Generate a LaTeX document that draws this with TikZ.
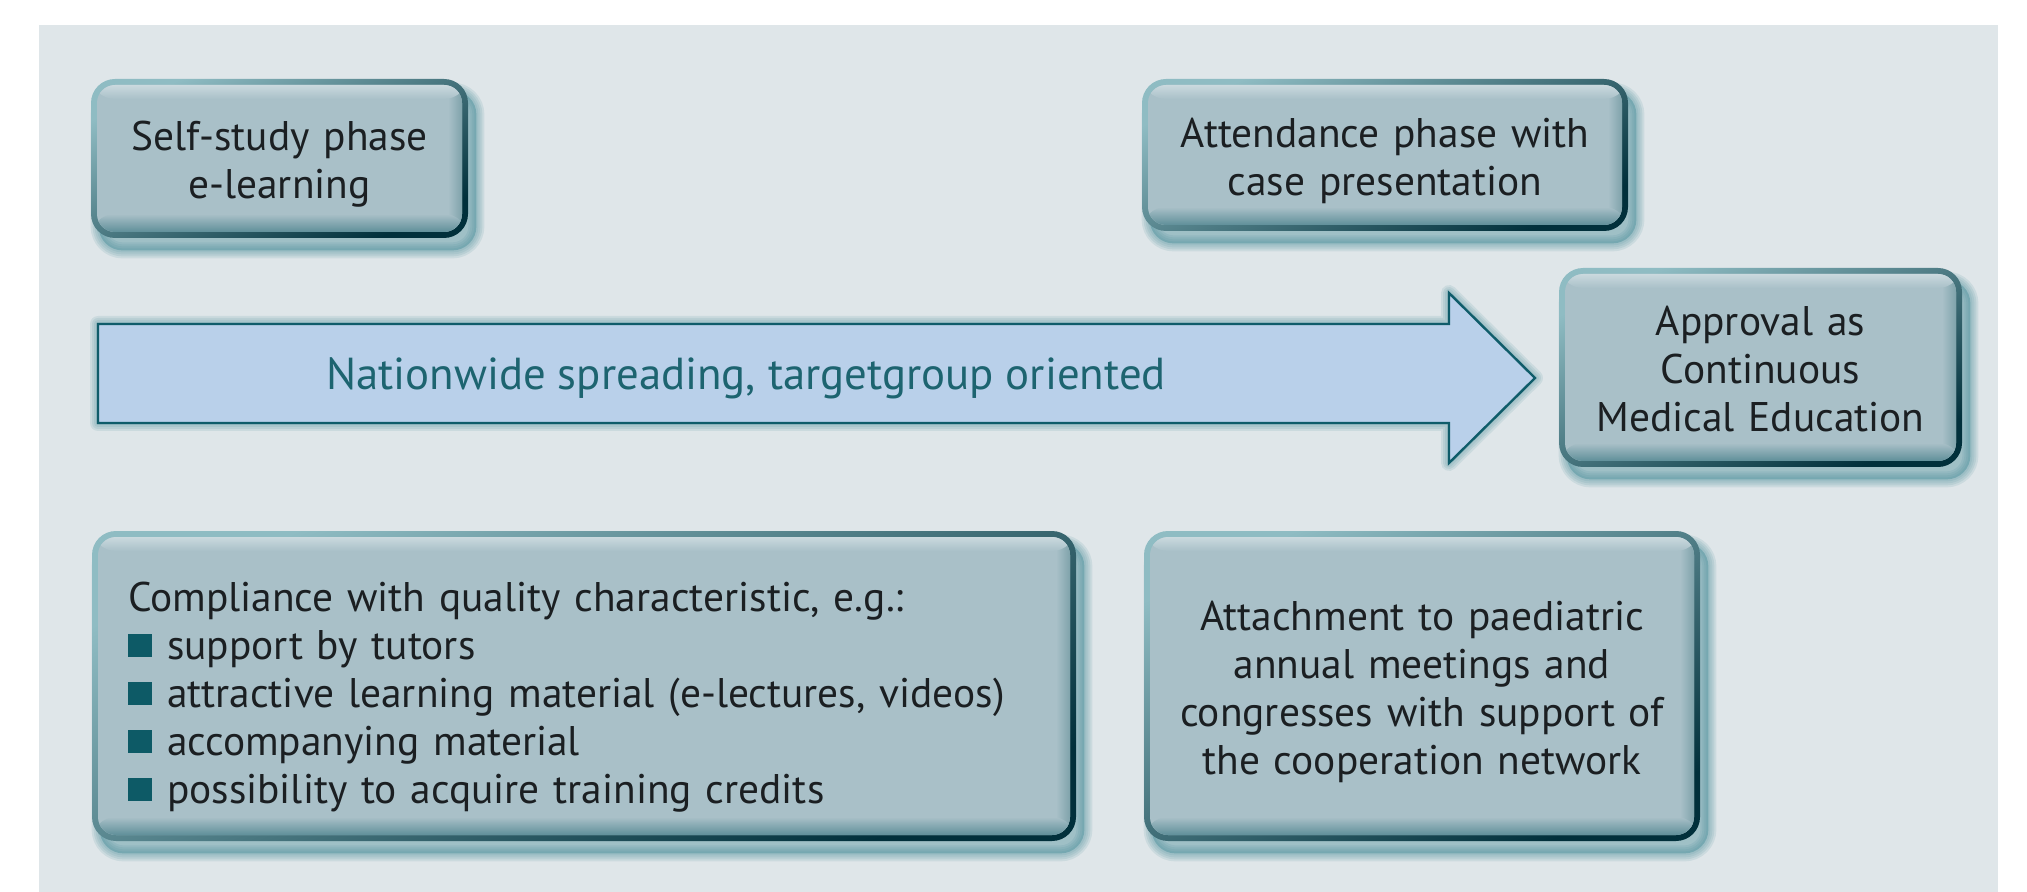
\documentclass[tikz,border=0pt]{standalone}
\usepackage{fontspec}
\setmainfont{PT Sans}
\usetikzlibrary{calc}
\definecolor{panel}{HTML}{DFE6E9}
\definecolor{boxfill}{HTML}{A9C0C8}
\definecolor{boxlight}{HTML}{CAD9DE}
\definecolor{boxdark}{HTML}{5F8F99}
\definecolor{boxdarkr}{HTML}{7FA3AB}
\definecolor{bordlight}{HTML}{8FBCC3}
\definecolor{borddark}{HTML}{01303B}
\definecolor{shadowcol}{HTML}{3F8793}
\definecolor{arrowfill}{HTML}{B9D0EA}
\definecolor{arrowdraw}{HTML}{0F5C6A}
\definecolor{arrowtext}{HTML}{1D6470}
\definecolor{bulcol}{HTML}{0D5A66}
\definecolor{txt}{HTML}{1B1F22}
\pgfdeclarelayer{bg}
\pgfdeclarelayer{shad}
\pgfsetlayers{bg,shad,main}
\newcommand\sqbul{\textcolor{bulcol}{\rule[1pt]{12pt}{11.5pt}}\hspace{7.5pt}}
\begin{document}
\begin{tikzpicture}[x=0.5pt,y=-0.5pt,
  pbox/.style={rectangle, rounded corners=12pt, inner sep=0pt,
    shade, top color=bordlight, bottom color=borddark, shading angle=25,
    text=txt, align=center, font=\fontsize{20.7}{24}\selectfont,
    execute at end node={\rule[-4.6pt]{0pt}{0pt}},
    path picture={
      \begin{scope}
      \clip[rounded corners=9pt] ([shift={(3pt,-3pt)}]path picture bounding box.north west) rectangle ([shift={(-3pt,3pt)}]path picture bounding box.south east);
      \fill[boxfill] (path picture bounding box.south west) rectangle (path picture bounding box.north east);
      \shade[left color=boxfill, right color=boxdarkr] ([shift={(-10pt,0pt)}]path picture bounding box.north east) rectangle ([shift={(-3pt,0pt)}]path picture bounding box.south east);
      \shade[top color=boxlight, bottom color=boxfill] ([shift={(0pt,-3pt)}]path picture bounding box.north west) rectangle ([shift={(0pt,-10pt)}]path picture bounding box.north east);
      \shade[top color=boxfill, bottom color=boxdark] ([shift={(0pt,12pt)}]path picture bounding box.south west) rectangle ([shift={(0pt,3pt)}]path picture bounding box.south east);
      \end{scope}
    }},
  toph/.style={execute at begin node={\rule{0pt}{#1}}},
  shadowbox/.style={shadowcol, rounded corners=12pt, line join=round},
  arrowshape/.style={fill=arrowfill, draw=arrowdraw, line width=1.2pt, line join=miter}
]
\useasboundingbox (0,0) rectangle (2027,892);
\begin{pgfonlayer}{bg}
  \fill[white] (0,0) rectangle (2027,892);
  \fill[panel] (39,25) rectangle (1998,892);
\end{pgfonlayer}

% boxes
\node[pbox, toph=21pt, minimum width=188.5pt, minimum height=79.5pt, text width=178pt] (ss) at (279.5,158.5) {Self-study phase\\e-learning};
\node[pbox, toph=21pt, minimum width=243pt, minimum height=76pt, text width=233pt] (att) at (1385,155) {Attendance phase with\\case presentation};
\node[pbox, toph=21pt, minimum width=201.5pt, minimum height=99.5pt, text width=191pt] (appr) at (1760.5,367.5) {Approval as\\Continuous\\Medical Education};
\node[pbox, toph=26pt, minimum width=492pt, minimum height=155pt, text width=456pt, align=left] (comp) at (584,686) {Compliance with quality characteristic, e.g.:\\
\sqbul support by tutors\\
\sqbul attractive learning material (e-lectures, videos)\\
\sqbul accompanying material\\
\sqbul possibility to acquire training credits};
\node[pbox, toph=21pt, minimum width=278pt, minimum height=155pt, text width=268pt] (attach) at (1422,686) {Attachment to paediatric\\annual meetings and\\congresses with support of\\the cooperation network};

% arrow
\coordinate (f1) at (98,324);
\coordinate (f2) at (1449,324);
\coordinate (f3) at (1449,293);
\coordinate (tip) at (1535,378);
\coordinate (f5) at (1449,463);
\coordinate (f6) at (1449,423);
\coordinate (f7) at (98,423);
\draw[arrowshape] (f1) -- (f2) -- (f3) -- (tip) -- (f5) -- (f6) -- (f7) -- cycle;
\node[font=\fontsize{22.4}{26}\selectfont, text=arrowtext, anchor=base, inner sep=0pt] (flowlbl) at (746,390) {Nationwide spreading, targetgroup oriented};

% shadows
\begin{pgfonlayer}{shad}
  \foreach \n in {ss,att,appr,comp,attach}{
    \foreach \w in {8,6,4,2}{
      \draw[shadowbox, opacity=0.12, line width=\w pt] ([shift={(4pt,-6pt)}]\n.south west) rectangle ([shift={(4pt,-6pt)}]\n.north east);
    }
    \fill[shadowbox, opacity=0.4] ([shift={(4pt,-6pt)}]\n.south west) rectangle ([shift={(4pt,-6pt)}]\n.north east);
  }
  \begin{scope}[shift={(9,12)}]
    \foreach \w in {8,6,4,2}{
      \draw[shadowcol, opacity=0.12, line width=\w pt, line join=round] (f1) -- (f2) -- (f3) -- (tip) -- (f5) -- (f6) -- (f7) -- cycle;
    }
    \fill[shadowcol, opacity=0.4] (f1) -- (f2) -- (f3) -- (tip) -- (f5) -- (f6) -- (f7) -- cycle;
  \end{scope}
\end{pgfonlayer}
\end{tikzpicture}
\end{document}
